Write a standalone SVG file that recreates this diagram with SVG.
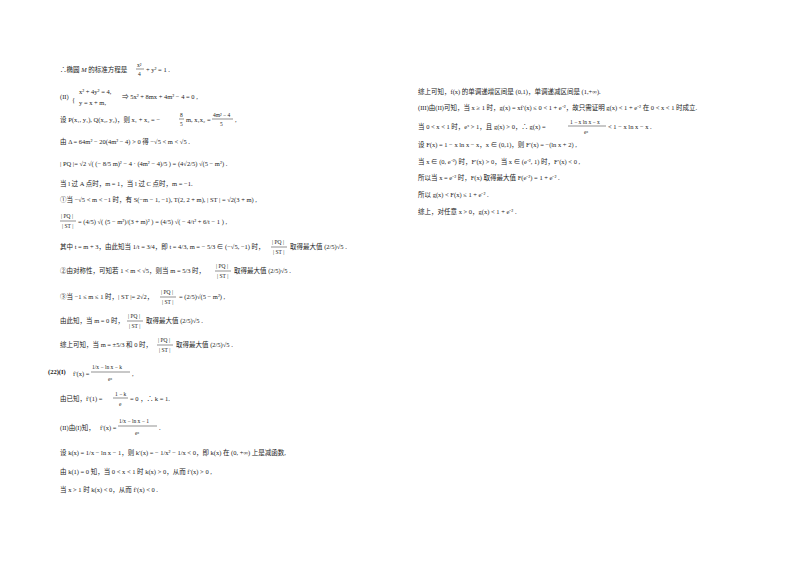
<svg xmlns="http://www.w3.org/2000/svg" width="800" height="565" viewBox="0 0 800 565">
<style>
text{font-family:"Liberation Serif","Noto Sans CJK SC",serif;font-size:6.5px;fill:#222}
.s{font-size:5.5px}
line{stroke:#222;stroke-width:0.5}
.b{font-weight:bold}
</style>
<rect width="800" height="565" fill="#fff"/>
<g id="left">
<text x="60" y="72">∴椭圆 <tspan font-style="italic">M</tspan> 的标准方程是</text>
<text class="s" x="137" y="67">x²</text><line x1="136" y1="69" x2="144" y2="69"/><text class="s" x="138" y="76">4</text>
<text x="146" y="72">+ y² = 1 .</text>

<text x="60" y="99">(II)</text><text x="72" y="102" font-size="14px">{</text>
<text x="79" y="94">x² + 4y² = 4,</text><text x="79" y="105">y = x + m,</text>
<text x="122" y="99">⇒ 5x² + 8mx + 4m² − 4 = 0 ,</text>

<text x="60" y="122">设 P(x₁, y₁), Q(x₂, y₂)，则 x₁ + x₂ = −</text>
<text class="s" x="180" y="117">8</text><line x1="179" y1="119" x2="184" y2="119"/><text class="s" x="180" y="126">5</text>
<text x="186" y="122">m, x₁x₂ =</text>
<text class="s" x="213" y="117">4m² − 4</text><line x1="212" y1="119" x2="233" y2="119"/><text class="s" x="220" y="126">5</text><text x="235" y="122">,</text>

<text x="60" y="144">由 Δ = 64m² − 20(4m² − 4) &gt; 0 得 −√5 &lt; m &lt; √5 .</text>

<text x="60" y="166">| PQ |= √2 √( (− 8/5 m)² − 4 · (4m² − 4)/5 ) = (4√2/5) √(5 − m²) .</text>

<text x="60" y="186">当 l 过 A 点时，m = 1，当 l 过 C 点时，m = −1.</text>
<text x="60" y="202">①当 −√5 &lt; m &lt; −1 时，有 S(−m − 1, −1), T(2, 2 + m), | ST | = √2(3 + m) ,</text>

<text class="s" x="61" y="218">| PQ |</text><line x1="60" y1="221" x2="76" y2="221"/><text class="s" x="62" y="228">| ST |</text>
<text x="78" y="224">= (4/5) √( (5 − m²)/(3 + m)² ) = (4/5) √( − 4/t² + 6/t − 1 ) ,</text>

<text x="60" y="249">其中 t = m + 3，由此知当 1/t = 3/4，即 t = 4/3, m = − 5/3 ∈ (−√5, −1) 时，</text>
<text class="s" x="272" y="244">| PQ |</text><line x1="271" y1="247" x2="287" y2="247"/><text class="s" x="273" y="254">| ST |</text>
<text x="290" y="249">取得最大值 (2/5)√5 .</text>

<text x="60" y="273">②由对称性，可知若 1 &lt; m &lt; √5，则当 m = 5/3 时，</text>
<text class="s" x="216" y="268">| PQ |</text><line x1="215" y1="271" x2="231" y2="271"/><text class="s" x="217" y="278">| ST |</text>
<text x="234" y="273">取得最大值 (2/5)√5 .</text>

<text x="60" y="299">③当 −1 ≤ m ≤ 1 时，| ST |= 2√2，</text>
<text class="s" x="161" y="294">| PQ |</text><line x1="160" y1="297" x2="176" y2="297"/><text class="s" x="162" y="304">| ST |</text>
<text x="179" y="299">= (2/5)√(5 − m²) ,</text>

<text x="60" y="323">由此知，当 m = 0 时，</text>
<text class="s" x="128" y="318">| PQ |</text><line x1="127" y1="321" x2="143" y2="321"/><text class="s" x="129" y="328">| ST |</text>
<text x="146" y="323">取得最大值 (2/5)√5 .</text>

<text x="60" y="347">综上可知，当 m = ±5/3 和 0 时，</text>
<text class="s" x="158" y="342">| PQ |</text><line x1="157" y1="345" x2="173" y2="345"/><text class="s" x="159" y="352">| ST |</text>
<text x="176" y="347">取得最大值 (2/5)√5 .</text>

<text x="48" y="374" class="b">(22)(I)</text>
<text x="73" y="376">f′(x) =</text>
<text class="s" x="92" y="369">1/x − ln x − k</text><line x1="91" y1="372" x2="130" y2="372"/><text class="s" x="108" y="381">eˣ</text><text x="132" y="376">,</text>

<text x="60" y="401">由已知，f′(1) =</text>
<text class="s" x="115" y="396">1 − k</text><line x1="113" y1="398" x2="128" y2="398"/><text class="s" x="119" y="406">e</text>
<text x="130" y="401">= 0 ，∴ k = 1.</text>

<text x="60" y="430">(II)由(I)知，</text>
<text x="100" y="430">f′(x) =</text>
<text class="s" x="119" y="423">1/x − ln x − 1</text><line x1="118" y1="426" x2="157" y2="426"/><text class="s" x="135" y="435">eˣ</text><text x="159" y="430">.</text>

<text x="60" y="455">设 k(x) = 1/x − ln x − 1，则 k′(x) = − 1/x² − 1/x &lt; 0，即 k(x) 在 (0, +∞) 上是减函数,</text>
<text x="60" y="474">由 k(1) = 0 知，当 0 &lt; x &lt; 1 时 k(x) &gt; 0，从而 f′(x) &gt; 0 ,</text>
<text x="60" y="492">当 x &gt; 1 时 k(x) &lt; 0，从而 f′(x) &lt; 0 .</text>
</g>
<g id="right">
<text x="418" y="94">综上可知，f(x) 的单调递增区间是 (0,1)，单调递减区间是 (1,+∞).</text>
<text x="418" y="110">(III)由(II)可知，当 x ≥ 1 时，g(x) = xf′(x) ≤ 0 &lt; 1 + e⁻²，故只需证明 g(x) &lt; 1 + e⁻² 在 0 &lt; x &lt; 1 时成立.</text>
<text x="418" y="129">当 0 &lt; x &lt; 1 时，eˣ &gt; 1，且 g(x) &gt; 0，∴ g(x) =</text>
<text class="s" x="570" y="124">1 − x ln x − x</text><line x1="568" y1="126" x2="606" y2="126"/><text class="s" x="584" y="134">eˣ</text>
<text x="608" y="129">&lt; 1 − x ln x − x .</text>
<text x="418" y="147">设 F(x) = 1 − x ln x − x，x ∈ (0,1)，则 F′(x) = −(ln x + 2) ,</text>
<text x="418" y="164">当 x ∈ (0, e⁻²) 时，F′(x) &gt; 0，当 x ∈ (e⁻², 1) 时，F′(x) &lt; 0 ,</text>
<text x="418" y="180">所以当 x = e⁻² 时，F(x) 取得最大值 F(e⁻²) = 1 + e⁻² .</text>
<text x="418" y="197">所以 g(x) &lt; F(x) ≤ 1 + e⁻² .</text>
<text x="418" y="214">综上，对任意 x &gt; 0，g(x) &lt; 1 + e⁻² .</text>
</g>
</svg>
